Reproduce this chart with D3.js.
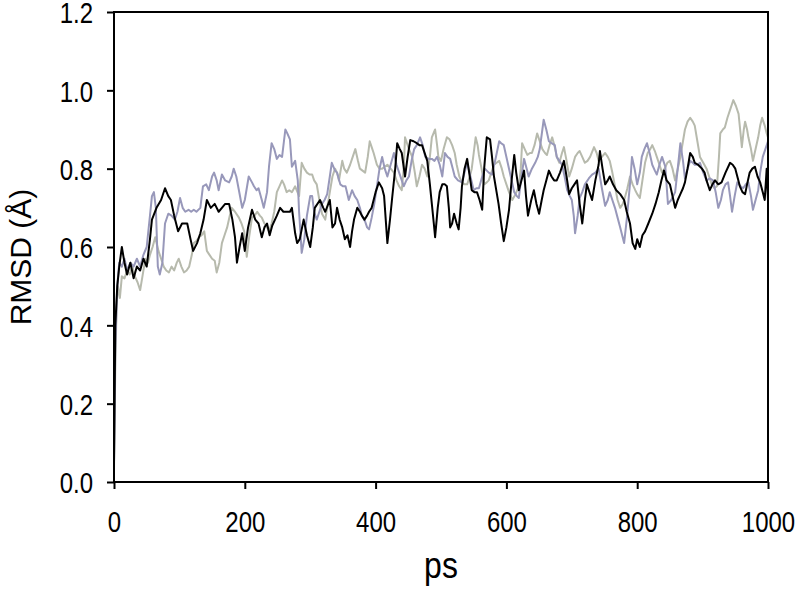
<!DOCTYPE html>
<html>
<head>
<meta charset="utf-8">
<script src="https://cdn.jsdelivr.net/npm/d3@7"></script>
<style>
  body { margin: 0; background: #fff; }
  text { font-family: "Liberation Sans", Arial, sans-serif; fill: #000; }
</style>
</head>
<body>
<div id="chart"></div>
<script>
// RMSD over time for three runs
var blackData = [[0,0.05],[2,0.40],[5,0.50],[8,0.55],[12,0.60],[16,0.56],[20,0.53],[25,0.56],[30,0.52],[35,0.55],[40,0.54],[45,0.57],[50,0.55],[55,0.62],[58,0.67],[65,0.70],[72,0.72],[78,0.75],[83,0.73],[87,0.72],[92,0.68],[98,0.64],[104,0.66],[112,0.66],[117,0.62],[121,0.59],[127,0.61],[132,0.635],[137,0.67],[142,0.72],[148,0.70],[154,0.71],[160,0.69],[165,0.70],[170,0.71],[176,0.71],[181,0.67],[185,0.625],[188,0.56],[192,0.60],[196,0.635],[200,0.59],[205,0.65],[211,0.695],[216,0.67],[221,0.66],[226,0.625],[230,0.65],[234,0.66],[238,0.63],[242,0.655],[249,0.68],[254,0.70],[259,0.69],[264,0.69],[269,0.69],[272,0.70],[277,0.635],[280,0.61],[284,0.62],[290,0.67],[295,0.63],[300,0.60],[304,0.65],[307,0.70],[315,0.72],[320,0.70],[323,0.69],[330,0.72],[334,0.65],[338,0.66],[341,0.70],[345,0.67],[349,0.65],[353,0.62],[357,0.63],[361,0.60],[364,0.64],[367,0.67],[372,0.70],[376,0.69],[379,0.68],[383,0.67],[387,0.68],[390,0.69],[394,0.70],[400,0.74],[405,0.765],[410,0.75],[413,0.73],[418,0.61],[422,0.67],[425,0.72],[430,0.80],[433,0.865],[437,0.85],[440,0.84],[445,0.78],[449,0.83],[453,0.873],[458,0.87],[463,0.865],[467,0.86],[471,0.86],[475,0.84],[479,0.82],[483,0.76],[486,0.71],[489,0.66],[491,0.625],[495,0.70],[498,0.74],[502,0.76],[506,0.76],[509,0.755],[512,0.70],[514,0.65],[517,0.66],[520,0.685],[524,0.66],[527,0.645],[530,0.70],[532,0.755],[536,0.80],[540,0.825],[544,0.78],[547,0.745],[551,0.74],[555,0.74],[559,0.72],[563,0.695],[566,0.80],[570,0.88],[575,0.875],[578,0.83],[581,0.78],[585,0.74],[588,0.71],[592,0.66],[596,0.615],[600,0.65],[604,0.695],[608,0.77],[612,0.835],[615,0.79],[619,0.745],[623,0.77],[627,0.795],[630,0.73],[633,0.68],[638,0.72],[642,0.745],[646,0.71],[650,0.685],[654,0.72],[657,0.745],[661,0.77],[665,0.795],[669,0.78],[673,0.77],[677,0.77],[682,0.79],[688,0.82],[692,0.78],[696,0.735],[700,0.75],[704,0.76],[708,0.77],[712,0.71],[716,0.66],[720,0.72],[723,0.76],[727,0.74],[731,0.72],[736,0.77],[741,0.81],[743,0.845],[747,0.80],[751,0.76],[755,0.77],[758,0.78],[763,0.76],[768,0.745],[774,0.735],[780,0.72],[784,0.69],[789,0.66],[793,0.61],[797,0.595],[800,0.62],[804,0.60],[808,0.63],[812,0.64],[817,0.66],[823,0.685],[828,0.71],[833,0.74],[837,0.77],[841,0.795],[845,0.77],[850,0.76],[854,0.73],[858,0.70],[862,0.72],[866,0.735],[870,0.75],[873,0.765],[877,0.80],[881,0.84],[885,0.83],[888,0.815],[893,0.81],[899,0.80],[903,0.79],[906,0.77],[911,0.745],[915,0.76],[919,0.77],[924,0.76],[929,0.765],[935,0.79],[942,0.815],[946,0.81],[950,0.80],[957,0.755],[961,0.74],[965,0.735],[968,0.76],[972,0.79],[976,0.80],[980,0.805],[984,0.78],[988,0.765],[992,0.74],[995,0.72],[998,0.80],[1000,0.72]];

var purpleData = [[0,0.05],[2,0.35],[5,0.50],[8,0.56],[12,0.55],[16,0.57],[20,0.54],[25,0.56],[30,0.55],[35,0.57],[40,0.55],[45,0.58],[50,0.60],[55,0.68],[58,0.73],[61,0.74],[64,0.70],[67,0.55],[70,0.53],[74,0.56],[78,0.66],[83,0.685],[88,0.68],[93,0.67],[97,0.69],[101,0.725],[105,0.70],[109,0.69],[114,0.695],[118,0.69],[122,0.695],[126,0.69],[132,0.70],[136,0.755],[141,0.76],[145,0.745],[150,0.78],[153,0.79],[157,0.77],[160,0.745],[165,0.785],[170,0.77],[176,0.765],[180,0.78],[183,0.80],[187,0.78],[191,0.745],[196,0.70],[200,0.72],[206,0.78],[211,0.765],[214,0.755],[218,0.745],[221,0.75],[226,0.72],[229,0.70],[234,0.74],[237,0.805],[241,0.865],[245,0.85],[249,0.825],[253,0.835],[257,0.83],[262,0.90],[265,0.89],[269,0.875],[272,0.805],[277,0.82],[281,0.77],[283,0.69],[287,0.585],[291,0.62],[295,0.68],[300,0.73],[303,0.73],[306,0.69],[310,0.67],[314,0.69],[318,0.71],[322,0.72],[326,0.735],[330,0.78],[333,0.815],[338,0.795],[341,0.79],[346,0.76],[350,0.755],[354,0.755],[359,0.72],[364,0.745],[368,0.73],[372,0.72],[376,0.70],[379,0.68],[384,0.665],[387,0.65],[390,0.645],[394,0.675],[398,0.71],[402,0.755],[406,0.80],[410,0.83],[414,0.80],[418,0.78],[423,0.81],[428,0.84],[432,0.81],[436,0.79],[440,0.77],[443,0.755],[447,0.77],[451,0.78],[455,0.82],[459,0.85],[463,0.86],[468,0.88],[472,0.86],[476,0.83],[481,0.825],[486,0.825],[490,0.82],[494,0.83],[498,0.81],[502,0.78],[506,0.84],[510,0.83],[514,0.825],[518,0.80],[521,0.78],[526,0.77],[532,0.765],[536,0.79],[540,0.815],[545,0.78],[550,0.745],[554,0.75],[558,0.75],[563,0.78],[567,0.80],[573,0.79],[578,0.785],[584,0.83],[589,0.87],[592,0.865],[596,0.86],[600,0.83],[604,0.80],[608,0.77],[612,0.74],[616,0.73],[619,0.725],[623,0.78],[627,0.825],[631,0.80],[634,0.78],[639,0.80],[644,0.815],[648,0.83],[651,0.85],[655,0.90],[657,0.925],[661,0.90],[665,0.87],[669,0.865],[674,0.86],[677,0.83],[681,0.82],[685,0.81],[689,0.78],[693,0.745],[697,0.73],[700,0.72],[703,0.68],[705,0.635],[709,0.68],[712,0.725],[716,0.74],[720,0.76],[726,0.775],[731,0.785],[736,0.79],[741,0.80],[746,0.75],[751,0.705],[755,0.72],[758,0.74],[762,0.72],[766,0.70],[770,0.675],[774,0.65],[777,0.63],[780,0.61],[784,0.67],[787,0.725],[790,0.78],[792,0.83],[796,0.80],[800,0.76],[804,0.79],[807,0.83],[811,0.85],[815,0.865],[819,0.84],[823,0.81],[827,0.795],[830,0.785],[834,0.81],[838,0.83],[843,0.805],[847,0.71],[852,0.72],[858,0.74],[862,0.80],[866,0.865],[870,0.82],[873,0.775],[877,0.80],[881,0.82],[885,0.815],[888,0.81],[892,0.81],[896,0.815],[901,0.79],[906,0.77],[911,0.775],[916,0.77],[920,0.74],[924,0.70],[928,0.72],[931,0.745],[935,0.76],[939,0.765],[942,0.73],[945,0.69],[949,0.73],[953,0.765],[958,0.755],[962,0.75],[966,0.76],[970,0.765],[974,0.73],[977,0.695],[981,0.72],[985,0.745],[988,0.79],[992,0.83],[996,0.85],[1000,0.87]];

var grayData = [[0,0.03],[2,0.30],[4,0.45],[6,0.50],[9,0.47],[12,0.525],[16,0.52],[20,0.54],[24,0.53],[28,0.55],[32,0.525],[36,0.51],[40,0.49],[44,0.53],[48,0.57],[52,0.56],[55,0.58],[59,0.60],[63,0.625],[68,0.59],[72,0.57],[76,0.55],[80,0.54],[84,0.535],[88,0.55],[92,0.54],[96,0.56],[99,0.57],[103,0.55],[107,0.535],[111,0.54],[115,0.55],[119,0.58],[122,0.61],[126,0.615],[130,0.625],[134,0.63],[138,0.64],[142,0.59],[146,0.58],[150,0.57],[154,0.565],[157,0.535],[161,0.56],[165,0.61],[169,0.63],[173,0.65],[177,0.68],[180,0.70],[185,0.69],[191,0.675],[195,0.66],[199,0.64],[203,0.575],[207,0.63],[211,0.675],[215,0.68],[219,0.69],[223,0.68],[226,0.675],[230,0.66],[234,0.65],[237,0.64],[241,0.66],[245,0.69],[249,0.74],[253,0.755],[257,0.77],[260,0.76],[264,0.74],[268,0.745],[272,0.74],[277,0.755],[283,0.73],[287,0.815],[291,0.80],[295,0.79],[299,0.785],[303,0.785],[306,0.77],[310,0.76],[314,0.72],[318,0.685],[323,0.67],[326,0.70],[330,0.74],[334,0.78],[338,0.80],[341,0.79],[344,0.77],[349,0.82],[352,0.80],[356,0.79],[361,0.81],[365,0.83],[369,0.85],[373,0.82],[376,0.80],[380,0.795],[384,0.79],[388,0.83],[391,0.87],[394,0.855],[397,0.84],[402,0.81],[406,0.80],[410,0.80],[414,0.805],[418,0.81],[423,0.80],[428,0.79],[432,0.77],[436,0.755],[440,0.745],[443,0.80],[445,0.88],[448,0.865],[451,0.85],[456,0.83],[460,0.79],[463,0.755],[467,0.78],[471,0.81],[475,0.80],[479,0.78],[483,0.83],[486,0.88],[491,0.90],[494,0.86],[496,0.83],[500,0.82],[504,0.85],[509,0.88],[513,0.875],[517,0.86],[521,0.84],[524,0.81],[528,0.78],[532,0.765],[536,0.76],[540,0.76],[544,0.78],[547,0.80],[550,0.84],[553,0.88],[556,0.86],[558,0.835],[562,0.80],[566,0.76],[570,0.765],[573,0.77],[577,0.79],[581,0.81],[585,0.815],[589,0.82],[593,0.80],[596,0.78],[600,0.76],[604,0.74],[609,0.72],[614,0.735],[619,0.755],[622,0.80],[624,0.865],[628,0.85],[632,0.835],[636,0.84],[639,0.84],[643,0.86],[647,0.89],[651,0.87],[655,0.85],[659,0.84],[662,0.835],[666,0.86],[670,0.88],[674,0.855],[677,0.83],[681,0.815],[685,0.84],[688,0.855],[692,0.82],[696,0.78],[700,0.80],[705,0.83],[709,0.84],[712,0.845],[716,0.83],[720,0.815],[724,0.82],[728,0.83],[734,0.855],[738,0.84],[741,0.82],[746,0.83],[751,0.84],[755,0.83],[758,0.82],[762,0.79],[766,0.755],[770,0.72],[774,0.70],[778,0.71],[781,0.725],[785,0.75],[789,0.78],[793,0.76],[797,0.745],[800,0.735],[804,0.725],[808,0.77],[812,0.815],[816,0.84],[820,0.85],[823,0.86],[827,0.845],[830,0.83],[834,0.81],[838,0.79],[842,0.80],[846,0.815],[850,0.82],[854,0.80],[858,0.77],[862,0.80],[866,0.83],[870,0.87],[873,0.90],[877,0.92],[881,0.93],[885,0.92],[888,0.91],[892,0.87],[896,0.83],[901,0.815],[906,0.80],[910,0.78],[914,0.76],[918,0.75],[922,0.755],[925,0.83],[927,0.89],[931,0.90],[934,0.905],[938,0.93],[942,0.95],[945,0.965],[947,0.975],[951,0.96],[955,0.94],[958,0.89],[960,0.855],[963,0.90],[965,0.92],[968,0.90],[970,0.88],[974,0.85],[977,0.82],[981,0.85],[985,0.88],[988,0.91],[991,0.93],[995,0.91],[998,0.89],[1000,0.88]];

var xTicks = [0, 200, 400, 600, 800, 1000];
var yTicks = [0, 0.2, 0.4, 0.6, 0.8, 1.0, 1.2];

var svgWidth = 800;
var svgHeight = 590;

var margin = {
    top: 12,
    right: 32,
    bottom: 108,
    left: 114
};

var width = svgWidth - margin.left - margin.right;
var height = svgHeight - margin.top - margin.bottom;

// the reference glyphs are a bit taller than they are wide
var stretch = 1.2;

var svg = d3.select("#chart")
    .append("svg")
    .attr("width", svgWidth)
    .attr("height", svgHeight);

var chartGroup = svg.append("g")
    .attr("transform", `translate(${margin.left}, ${margin.top})`);

var xLinearScale = d3.scaleLinear()
    .domain([0, 1000])
    .range([0, width]);

var yLinearScale = d3.scaleLinear()
    .domain([0, 1.2])
    .range([height, 0]);

var line = d3.line()
    .x(d => xLinearScale(d[0]))
    .y(d => yLinearScale(d[1]));

// gray first, black on top
[[grayData, "#b7baad"], [purpleData, "#9898ba"], [blackData, "#000000"]].forEach(function(s) {
    chartGroup.append("path")
        .datum(s[0])
        .attr("fill", "none")
        .attr("stroke", s[1])
        .attr("stroke-width", 2)
        .attr("stroke-linejoin", "round")
        .attr("d", line);
});

// frame
chartGroup.append("rect")
    .attr("x", 0)
    .attr("y", 0)
    .attr("width", width)
    .attr("height", height)
    .attr("fill", "none")
    .attr("stroke", "#000")
    .attr("stroke-width", 2);

var bottomAxis = d3.axisBottom(xLinearScale)
    .tickValues(xTicks)
    .tickSize(7)
    .tickFormat(d3.format("d"));

var leftAxis = d3.axisLeft(yLinearScale)
    .tickValues(yTicks)
    .tickSize(7)
    .tickPadding(14)
    .tickFormat(d3.format(".1f"));

var xAxisG = chartGroup.append("g")
    .attr("transform", `translate(0, ${height})`)
    .call(bottomAxis);

var yAxisG = chartGroup.append("g")
    .call(leftAxis);

[xAxisG, yAxisG].forEach(function(g) {
    g.select(".domain").remove();
    g.selectAll(".tick line").attr("stroke", "#000").attr("stroke-width", 2);
    g.selectAll(".tick text")
        .attr("fill", "#000")
        .style("font-size", "24px")
        .style("font-family", "'Liberation Sans', Arial, sans-serif");
});

// stretch tick labels vertically
yAxisG.selectAll(".tick text")
    .attr("dy", "0.38em")
    .attr("transform", `scale(1, ${stretch})`);

xAxisG.selectAll(".tick text")
    .attr("y", 50 / stretch)
    .attr("dy", 0)
    .attr("transform", `scale(1, ${stretch})`);

chartGroup.append("text")
    .attr("transform", "rotate(-90)")
    .attr("x", -245)
    .attr("y", 0 - margin.left + 31)
    .attr("text-anchor", "middle")
    .style("font-size", "30px")
    .text("RMSD (Å)");

chartGroup.append("text")
    .attr("transform", `translate(${width / 2}, ${height + 96}) scale(1, 1.18)`)
    .attr("text-anchor", "middle")
    .style("font-size", "32px")
    .text("ps");
</script>
</body>
</html>
